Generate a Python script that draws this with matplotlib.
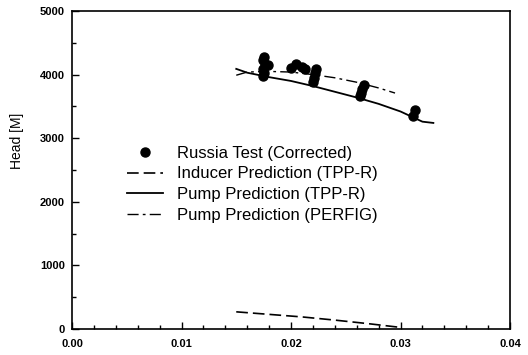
import matplotlib.pyplot as plt
from matplotlib.ticker import MultipleLocator

plt.rcParams['font.family'] = ['Liberation Sans', 'DejaVu Sans']

# Russia test points (corrected), flow coefficient vs head
test_q = [0.0175, 0.0174, 0.0176, 0.0174, 0.0175, 0.0174, 0.0179,
          0.0200, 0.0205, 0.0210, 0.0213,
          0.0223, 0.0222, 0.0221, 0.0220,
          0.0267, 0.0265, 0.0264, 0.0263,
          0.0313, 0.0311]
test_h = [4280, 4230, 4150, 4090, 4030, 3980, 4150,
          4110, 4160, 4120, 4090,
          4090, 4020, 3950, 3890,
          3830, 3770, 3710, 3660,
          3440, 3350]

inducer_q = [0.015, 0.018, 0.021, 0.024, 0.027, 0.030]
inducer_h = [270, 230, 190, 140, 85, 25]

pump_q = [0.015, 0.016, 0.018, 0.020, 0.022, 0.024, 0.026, 0.028,
          0.030, 0.031, 0.032, 0.033]
pump_h = [4090, 4030, 3960, 3900, 3820, 3730, 3640, 3540,
          3420, 3340, 3260, 3240]

perfig_q = [0.015, 0.016, 0.018, 0.020, 0.022, 0.024, 0.026, 0.028, 0.0295]
perfig_h = [3990, 4040, 4050, 4040, 4000, 3950, 3880, 3790, 3710]


fig = plt.figure(figsize=(5.28, 3.55), dpi=100)
ax = fig.add_axes([72 / 528, 26 / 355, 438 / 528, 318 / 355])

ax.plot(test_q, test_h, 'o', color='black', markersize=6.5,
        label='Russia Test (Corrected)')
ax.plot(inducer_q, inducer_h, color='black', lw=1.2,
        linestyle=(0, (7, 3)), label='Inducer Prediction (TPP-R)')
ax.plot(pump_q, pump_h, color='black', lw=1.3,
        label='Pump Prediction (TPP-R)')
ax.plot(perfig_q, perfig_h, color='black', lw=1.0,
        linestyle=(0, (8, 3, 2, 3)), label='Pump Prediction (PERFIG)')

ax.set_xlim(0, 0.04)
ax.set_ylim(0, 5000)
ax.xaxis.set_major_locator(MultipleLocator(0.01))
ax.xaxis.set_minor_locator(MultipleLocator(0.002))
ax.yaxis.set_major_locator(MultipleLocator(1000))
ax.yaxis.set_minor_locator(MultipleLocator(500))
ax.xaxis.set_major_formatter(lambda v, p: f'{v:.2f}')
ax.tick_params(which='both', direction='in', top=False, right=False,
               labelsize=8, width=1)
ax.tick_params(which='major', length=5, pad=5)
ax.tick_params(axis='x', which='major', pad=7)
ax.tick_params(which='minor', length=3)
for lbl in ax.get_xticklabels() + ax.get_yticklabels():
    lbl.set_fontweight('bold')
for s in ax.spines.values():
    s.set_linewidth(1.2)

fig.text(17 / 528, 1 - 141 / 355, 'Head [M]', fontsize=10, rotation=90,
         ha='center', va='center')

leg = ax.legend(loc='upper left', bbox_to_anchor=(0.125, 0.577), frameon=False,
                fontsize=12, handlelength=2.15, handletextpad=0.85,
                labelspacing=0.35, borderaxespad=0, borderpad=0)

fig.savefig('out.png', dpi=100)
